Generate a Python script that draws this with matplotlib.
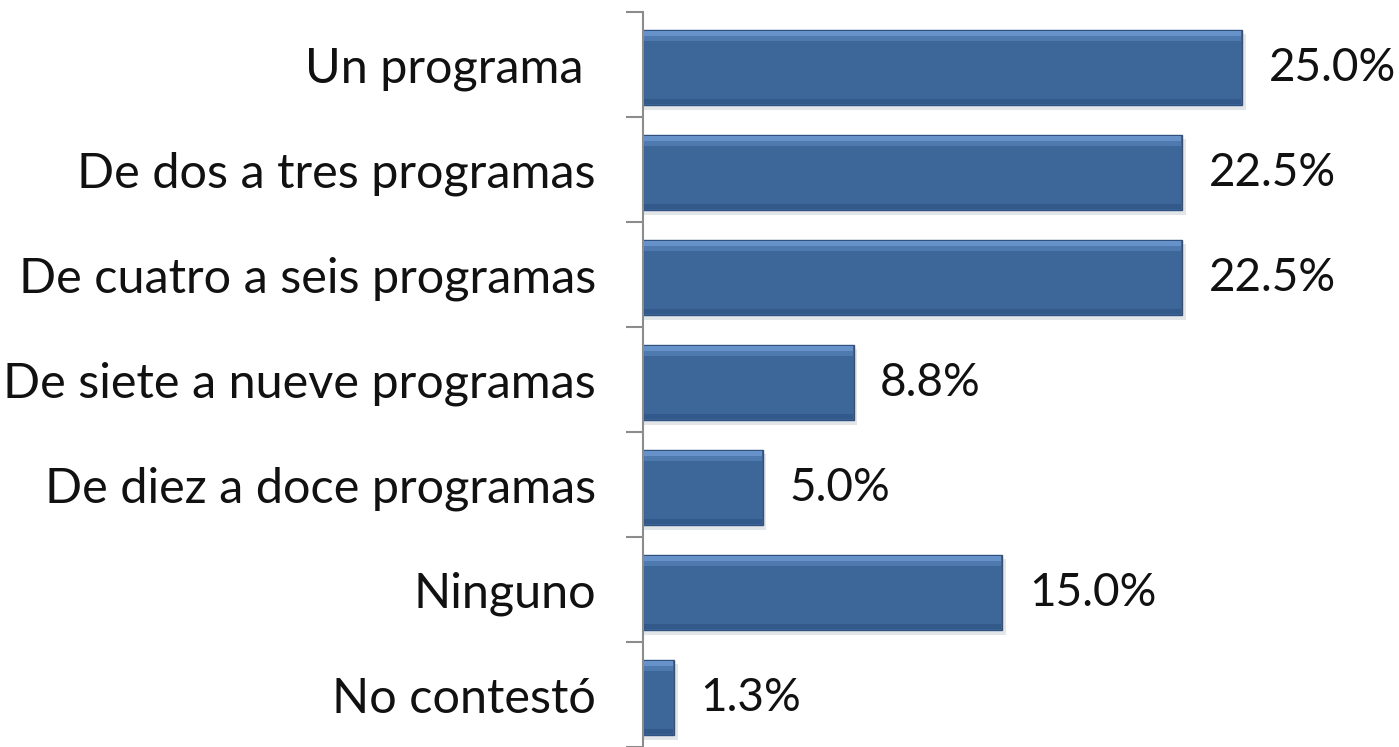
import numpy as np
import matplotlib.pyplot as plt

categorias = ['Un programa ', 'De dos a tres programas', 'De cuatro a seis programas',
              'De siete a nueve programas', 'De diez a doce programas', 'Ninguno', 'No contestó']
valores = [25.0, 22.5, 22.5, 8.8, 5.0, 15.0, 1.3]
etiquetas = ['25.0%', '22.5%', '22.5%', '8.8%', '5.0%', '15.0%', '1.3%']

plt.rcParams['font.family'] = ['Lato', 'DejaVu Sans']

fig = plt.figure(figsize=(13.99, 7.47), dpi=100)
ax = fig.add_axes([643/1399, 0, 1 - 643/1399, 1 - 12/747])

y = np.arange(len(categorias)) + 0.03
h = 0.72
v = np.array(valores)

# sombra
ax.barh(y + 0.04, v + 0.1, height=h, left=0.05, color='#c3c8cf', alpha=0.45, zorder=1)
# barra principal
ax.barh(y, v, height=h, color='#3e6799', edgecolor='#2f5180', linewidth=1.0, zorder=2)
# bisel: brillo arriba, sombra abajo
ax.barh(y - h/2 + 0.035, v - 0.08, height=0.05, left=0.04, color='#6792c9', zorder=3)
ax.barh(y - h/2 + 0.085, v - 0.08, height=0.05, left=0.04, color='#4f7ab0', zorder=3)
ax.barh(y + h/2 - 0.035, v - 0.08, height=0.05, left=0.04, color='#33588a', zorder=3)

for yi, vi, t in zip(y, v, etiquetas):
    ax.annotate(t, (vi, yi), xytext=(19, 0), textcoords='offset points',
                va='center', ha='left', fontsize=33, color='#111111')

ax.set_xlim(0, 756/23.96)
ax.set_ylim(6.5, -0.5)

ax.set_yticks(np.arange(len(categorias)))
ax.set_yticklabels(categorias, fontsize=35, color='#111111')
ax.tick_params(axis='y', which='major', length=0, pad=34)
ax.set_yticks(np.arange(len(categorias) + 1) - 0.5, minor=True)
ax.tick_params(axis='y', which='minor', length=12, width=1.5, color='#8c8c8c')
ax.set_xticks([])

for s in ['top', 'right', 'bottom']:
    ax.spines[s].set_visible(False)
ax.spines['left'].set_color('#8c8c8c')
ax.spines['left'].set_linewidth(1.5)
ax.patch.set_alpha(0)

fig.savefig('out.png', dpi=100)
